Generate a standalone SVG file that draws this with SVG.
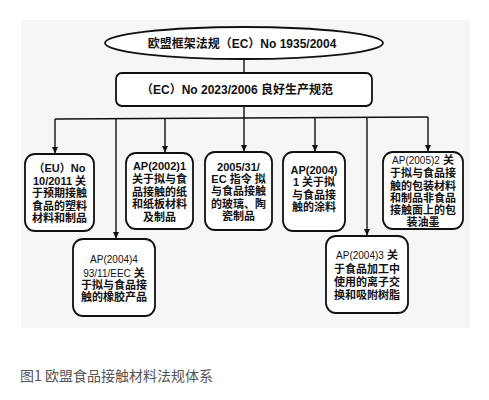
<svg xmlns="http://www.w3.org/2000/svg" width="489" height="400" viewBox="0 0 489 400">
<defs>
<marker id="ah" markerWidth="7" markerHeight="7" refX="6" refY="3.5" orient="auto" markerUnits="userSpaceOnUse">
<path d="M0,0.5 L6.5,3.5 L0,6.5 Z" fill="#111"/>
</marker>
</defs>
<style>
.bx{fill:#fff;stroke:#111;stroke-width:1.8}
.t{font-family:"Liberation Sans","Noto Sans CJK SC",sans-serif;font-weight:bold;fill:#111;text-anchor:middle}
.n{font-weight:normal}
.ln{stroke:#111;stroke-width:1.4;fill:none}
.cap{font-family:"Noto Sans CJK SC","Liberation Sans",sans-serif;font-size:14px;fill:#555}
</style>
<rect x="21" y="20" width="449" height="308" fill="#f6f6f6"/>
<g id="connectors">
<line class="ln" x1="244" y1="59" x2="244" y2="73"/>
<line class="ln" x1="244" y1="106" x2="244" y2="118"/>
<line class="ln" x1="55" y1="119" x2="428" y2="117"/>
<line class="ln" x1="55" y1="119" x2="55" y2="153" marker-end="url(#ah)"/>
<line class="ln" x1="116" y1="119" x2="116" y2="238" marker-end="url(#ah)"/>
<line class="ln" x1="165" y1="118" x2="165" y2="152" marker-end="url(#ah)"/>
<line class="ln" x1="244" y1="118" x2="244" y2="151" marker-end="url(#ah)"/>
<line class="ln" x1="315" y1="117" x2="315" y2="151" marker-end="url(#ah)"/>
<line class="ln" x1="367" y1="117" x2="367" y2="235" marker-end="url(#ah)"/>
<line class="ln" x1="428" y1="117" x2="428" y2="151" marker-end="url(#ah)"/>
</g>
<g id="root">
<ellipse class="bx" cx="244" cy="43" rx="139" ry="16"/>
<text class="t" x="242" y="47.5" font-size="12">欧盟框架法规（EC）No 1935/2004</text>
</g>
<g id="gmp">
<rect class="bx" x="116" y="73" width="256" height="33" rx="6"/>
<text class="t" x="237" y="93.5" font-size="12">（EC）No 2023/2006 良好生产规范</text>
</g>
<g id="n1">
<rect class="bx" x="25" y="154" width="69" height="77" rx="10"/>
<text class="t" font-size="11"><tspan x="59.5" y="172">（EU）No</tspan><tspan x="59.5" y="184.5">10/2011 关</tspan><tspan x="59.5" y="197">于预期接触</tspan><tspan x="59.5" y="209.5">食品的塑料</tspan><tspan x="59.5" y="222">材料和制品</tspan></text>
</g>
<g id="n2">
<rect class="bx" x="126" y="153" width="67" height="76" rx="10"/>
<text class="t" font-size="11"><tspan x="159.5" y="170">AP(2002)1</tspan><tspan x="159.5" y="183">关于拟与食</tspan><tspan x="159.5" y="195.5">品接触的纸</tspan><tspan x="159.5" y="208">和纸板材料</tspan><tspan x="159.5" y="220.5">及制品</tspan></text>
</g>
<g id="n3">
<rect class="bx" x="205" y="152" width="67" height="78" rx="10"/>
<text class="t" font-size="11"><tspan x="238.5" y="171">2005/31/</tspan><tspan x="238.5" y="183">EC 指令 拟</tspan><tspan x="238.5" y="195">与食品接触</tspan><tspan x="238.5" y="207.5">的玻璃、陶</tspan><tspan x="238.5" y="220">瓷制品</tspan></text>
</g>
<g id="n4">
<rect class="bx" x="283" y="152" width="62" height="79" rx="10"/>
<text class="t" font-size="11"><tspan x="314" y="174">AP(2004)</tspan><tspan x="314" y="186">1 关于拟</tspan><tspan x="314" y="198.5">与食品接</tspan><tspan x="314" y="211">触的涂料</tspan></text>
</g>
<g id="n5">
<rect class="bx" x="383" y="152" width="80" height="77" rx="10"/>
<text class="t" font-size="11"><tspan x="423" y="164"><tspan class="n" font-size="10">AP(2005)2</tspan> 关</tspan><tspan x="423" y="177">于拟与食品接</tspan><tspan x="423" y="189.5">触的包装材料</tspan><tspan x="423" y="202">和制品非食品</tspan><tspan x="423" y="214">接触面上的包</tspan><tspan x="423" y="226">装油墨</tspan></text>
</g>
<g id="n6">
<rect class="bx" x="73" y="239" width="82" height="77" rx="10"/>
<text class="t" font-size="11"><tspan x="114" y="263" class="n" font-size="10">AP(2004)4</tspan><tspan x="114" y="277"><tspan class="n" font-size="10">93/11/EEC</tspan> 关</tspan><tspan x="114" y="288.5">于拟与食品接</tspan><tspan x="114" y="300.5">触的橡胶产品</tspan></text>
</g>
<g id="n7">
<rect class="bx" x="326" y="236" width="82" height="77" rx="10"/>
<text class="t" font-size="11"><tspan x="367" y="259"><tspan class="n" font-size="10">AP(2004)3</tspan> 关</tspan><tspan x="367" y="273">于食品加工中</tspan><tspan x="367" y="286">使用的离子交</tspan><tspan x="367" y="298.5">换和吸附树脂</tspan></text>
</g>
<text class="cap" x="20" y="381">图1 欧盟食品接触材料法规体系</text>
</svg>
